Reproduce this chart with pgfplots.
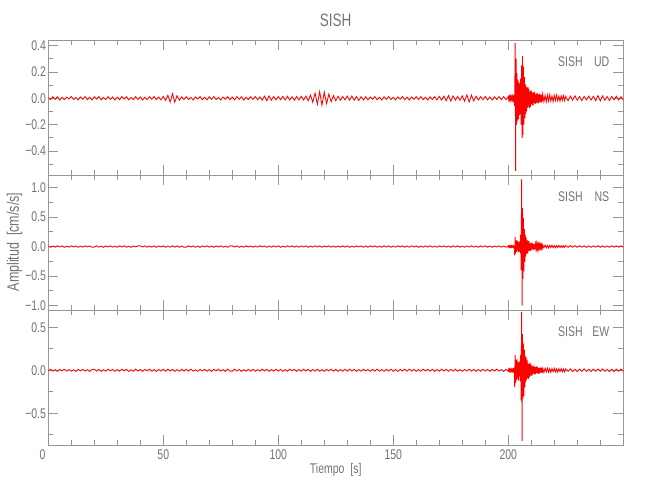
\documentclass[border=0pt]{standalone}
\usepackage{fontspec}
\setmainfont{Liberation Sans}[FakeStretch=0.75]
\usepackage{pgfplots}
\pgfplotsset{compat=1.18}
\usepackage{pgfplotstable}

\definecolor{axgray}{RGB}{150,150,150}
\definecolor{txtgray}{RGB}{115,115,115}

% seismogram, three components (cm/s/s)
\pgfplotstableread{
t ud ns ew
0 0.004 0.010 -0.008
1 -0.010 -0.012 0.011
2 0.012 0.008 -0.010
3 -0.008 -0.011 0.007
4 0.011 0.013 -0.012
5 -0.013 -0.007 0.010
6 0.007 0.011 -0.006
7 -0.011 -0.013 0.012
8 0.009 0.006 -0.009
9 -0.006 -0.010 0.008
10 0.013 0.012 -0.011
11 -0.009 -0.008 0.006
12 0.006 0.010 -0.013
13 -0.012 -0.013 0.010
14 0.010 0.007 -0.007
15 -0.007 -0.011 0.011
16 0.012 0.013 -0.010
17 -0.010 -0.006 0.007
18 0.008 0.010 -0.012
19 -0.013 -0.012 0.009
20 0.011 -0.009 0.012
21 -0.007 0.012 -0.008
22 0.013 -0.011 0.010
23 -0.012 0.008 -0.013
24 0.006 -0.013 0.007
25 -0.010 0.010 -0.011
26 0.012 -0.007 0.013
27 -0.008 0.012 -0.006
28 0.010 -0.010 0.010
29 -0.013 0.006 -0.012
30 0.008 -0.012 0.008
31 -0.011 0.011 -0.010
32 0.013 -0.008 0.012
33 -0.006 0.013 -0.007
34 0.011 -0.011 0.011
35 -0.012 0.007 -0.013
36 0.007 -0.013 0.006
37 -0.010 0.010 -0.011
38 0.012 -0.006 0.013
39 -0.009 0.012 -0.008
40 0.010 0.011 0.009
41 -0.013 -0.008 -0.012
42 0.008 0.013 0.011
43 -0.011 -0.012 -0.007
44 0.012 0.007 0.012
45 -0.007 -0.010 -0.010
46 0.013 0.012 0.008
47 -0.010 -0.013 -0.013
48 0.009 0.009 0.010
49 -0.012 -0.007 -0.009
50 0.014 0.010 0.012
51 -0.016 -0.012 -0.010
52 0.022 0.008 0.013
53 -0.028 -0.011 -0.008
54 0.034 0.013 0.011
55 -0.030 -0.009 -0.012
56 0.020 0.011 0.007
57 -0.015 -0.013 -0.011
58 0.011 0.007 0.012
59 -0.009 -0.010 -0.009
60 0.012 -0.010 0.011
61 -0.009 0.013 -0.009
62 0.007 -0.008 0.013
63 -0.013 0.011 -0.010
64 0.010 -0.012 0.006
65 -0.006 0.007 -0.012
66 0.013 -0.013 0.010
67 -0.011 0.010 -0.007
68 0.008 -0.006 0.012
69 -0.012 0.012 -0.011
70 0.011 -0.011 0.009
71 -0.008 0.008 -0.013
72 0.013 -0.013 0.011
73 -0.010 0.010 -0.006
74 0.006 -0.007 0.012
75 -0.013 0.012 -0.010
76 0.010 -0.010 0.008
77 -0.007 0.006 -0.012
78 0.012 -0.012 0.013
79 -0.011 0.011 -0.009
80 0.009 0.013 -0.011
81 -0.012 -0.009 0.012
82 0.013 0.011 -0.008
83 -0.008 -0.013 0.010
84 0.011 0.006 -0.013
85 -0.013 -0.011 0.007
86 0.007 0.012 -0.010
87 -0.010 -0.007 0.012
88 0.012 0.010 -0.009
89 -0.009 -0.012 0.011
90 0.013 0.008 -0.012
91 -0.011 -0.010 0.008
92 0.010 0.013 -0.010
93 -0.014 -0.006 0.013
94 0.016 0.011 -0.007
95 -0.018 -0.013 0.011
96 0.017 0.009 -0.012
97 -0.015 -0.011 0.009
98 0.014 0.012 -0.010
99 -0.012 -0.008 0.012
100 0.013 0.011 -0.009
101 -0.011 -0.013 0.011
102 0.014 0.007 -0.012
103 -0.012 -0.010 0.008
104 0.015 0.012 -0.011
105 -0.013 -0.008 0.013
106 0.011 0.013 -0.007
107 -0.014 -0.011 0.010
108 0.013 0.009 -0.012
109 -0.012 -0.012 0.009
110 0.015 0.010 -0.010
111 -0.013 -0.007 0.012
112 0.016 0.012 -0.008
113 -0.019 -0.013 0.011
114 0.024 0.008 -0.013
115 -0.030 -0.010 0.010
116 0.038 0.013 -0.009
117 -0.045 -0.009 0.012
118 0.050 0.011 -0.011
119 -0.052 -0.012 0.008
120 0.046 0.010 -0.012
121 -0.040 -0.008 0.010
122 0.032 0.013 -0.007
123 -0.026 -0.011 0.013
124 0.020 0.009 -0.010
125 -0.018 -0.012 0.011
126 0.016 0.007 -0.012
127 -0.015 -0.010 0.009
128 0.014 0.012 -0.011
129 -0.012 -0.009 0.012
130 0.016 0.011 -0.010
131 -0.014 -0.013 0.012
132 0.017 0.008 -0.008
133 -0.015 -0.011 0.011
134 0.013 0.013 -0.013
135 -0.016 -0.007 0.009
136 0.012 0.010 -0.011
137 -0.013 -0.012 0.012
138 0.011 0.009 -0.007
139 -0.012 -0.010 0.010
140 0.010 0.012 -0.012
141 -0.008 -0.008 0.011
142 0.012 0.011 -0.009
143 -0.011 -0.013 0.013
144 0.007 0.007 -0.010
145 -0.013 -0.011 0.008
146 0.011 0.013 -0.012
147 -0.009 -0.009 0.010
148 0.013 0.010 -0.008
149 -0.010 -0.012 0.012
150 0.008 0.008 -0.011
151 -0.012 -0.010 0.009
152 0.011 0.013 -0.013
153 -0.007 -0.007 0.011
154 0.013 0.011 -0.008
155 -0.011 -0.012 0.012
156 0.009 0.009 -0.010
157 -0.013 -0.011 0.013
158 0.010 0.012 -0.009
159 -0.008 -0.008 0.010
160 0.012 0.010 -0.012
161 -0.010 -0.013 0.008
162 0.013 0.007 -0.011
163 -0.011 -0.010 0.013
164 0.008 0.012 -0.007
165 -0.013 -0.009 0.011
166 0.011 0.013 -0.010
167 -0.009 -0.011 0.012
168 0.012 0.008 -0.013
169 -0.012 -0.012 0.009
170 0.014 0.011 -0.010
171 -0.013 -0.007 0.012
172 0.016 0.012 -0.008
173 -0.018 -0.010 0.011
174 0.020 0.009 -0.012
175 -0.021 -0.013 0.010
176 0.017 0.011 -0.009
177 -0.014 -0.008 0.013
178 0.013 0.012 -0.011
179 -0.015 -0.011 0.008
180 0.018 0.007 -0.012
181 -0.022 -0.012 0.010
182 0.026 0.010 -0.007
183 -0.028 -0.009 0.012
184 0.024 0.013 -0.010
185 -0.020 -0.010 0.011
186 0.016 0.008 -0.013
187 -0.013 -0.012 0.009
188 0.012 0.011 -0.011
189 -0.011 -0.008 0.012
190 0.013 0.012 -0.008
191 -0.012 -0.011 0.010
192 0.010 0.009 -0.012
193 -0.013 -0.013 0.011
194 0.011 0.010 -0.009
195 -0.009 -0.007 0.013
196 0.012 0.012 -0.010
197 -0.010 -0.010 0.008
198 0.013 0.008 -0.012
199 -0.011 -0.012 0.011
200.0 0.012 0.011 -0.010
200.2 -0.010 -0.012 0.012
200.4 0.013 0.008 -0.009
200.6 -0.011 -0.010 0.011
200.8 0.009 0.012 -0.012
201.0 -0.013 -0.009 0.010
201.2 0.011 0.011 -0.008
201.4 -0.008 -0.013 0.012
201.6 0.012 0.010 -0.011
201.8 -0.012 -0.008 0.009
202.0 0.010 0.012 -0.012
202.2 -0.011 -0.011 0.010
202.4 0.013 0.009 -0.013
202.6 -0.010 -0.012 0.011
202.8 -0.060 -0.150 -0.200
203.0 0.420 0.160 0.180
203.2 -0.550 -0.120 -0.150
203.4 0.300 0.100 0.120
203.6 -0.200 -0.090 -0.110
203.8 0.190 0.110 0.130
204.0 -0.170 -0.060 -0.090
204.2 0.140 0.090 0.100
204.4 -0.160 -0.100 -0.120
204.6 0.120 0.070 0.090
204.8 -0.130 -0.080 -0.070
205.0 0.110 0.090 0.110
205.2 -0.120 -0.110 -0.130
205.4 0.150 0.200 0.180
205.6 -0.200 -0.400 -0.350
205.8 0.250 1.140 0.680
206.0 -0.300 -1.000 -0.820
206.2 0.320 0.650 0.420
206.4 -0.280 -0.550 -0.330
206.6 0.240 0.480 0.310
206.8 -0.200 -0.420 -0.300
207.0 0.160 0.300 0.240
207.2 -0.150 -0.260 -0.200
207.4 0.110 0.200 0.170
207.6 -0.120 -0.170 -0.140
207.8 0.090 0.150 0.150
208.0 -0.100 -0.120 -0.110
208.2 0.080 0.110 0.120
208.4 -0.070 -0.120 -0.090
208.6 0.085 0.090 0.080
208.8 -0.060 -0.080 -0.100
209.0 0.070 0.100 0.070
209.2 -0.075 -0.070 -0.080
209.4 0.050 0.060 0.090
209.6 -0.065 -0.075 -0.060
209.8 0.060 0.050 0.070
210.0 -0.045 -0.060 -0.065
210.2 0.055 0.070 0.050
210.4 -0.050 -0.045 -0.060
210.6 0.040 0.055 0.045
210.8 -0.055 -0.050 -0.040
211.0 0.045 0.040 0.055
211.2 -0.035 -0.055 -0.045
211.4 0.050 0.035 0.040
211.6 -0.040 -0.045 -0.050
211.8 0.030 0.040 0.035
212.0 -0.045 -0.030 -0.040
212.2 0.035 0.045 0.045
212.4 -0.030 -0.035 -0.030
212.6 0.040 0.030 0.040
212.8 -0.035 -0.040 -0.035
213.0 0.028 0.028 0.030
213.2 -0.038 -0.035 -0.040
213.4 0.032 0.030 0.028
213.6 -0.026 -0.025 -0.035
213.8 0.035 0.032 0.030
214.0 -0.030 -0.028 -0.025
214.2 0.025 0.025 0.032
214.4 -0.032 -0.030 -0.028
214.6 0.028 0.022 0.025
214.8 -0.024 -0.026 -0.030
215.0 0.030 0.024 0.022
215.5 -0.026 -0.020 -0.026
216.0 0.022 0.025 0.024
216.5 -0.028 -0.022 -0.020
217.0 0.024 0.018 0.025
217.5 -0.020 -0.024 -0.022
218.0 0.026 0.020 0.018
218.5 -0.022 -0.016 -0.024
219.0 0.018 0.022 0.020
219.5 -0.025 -0.019 -0.017
220.0 0.021 0.015 0.022
220.5 -0.017 -0.020 -0.019
221.0 0.023 0.017 0.016
221.5 -0.019 -0.014 -0.021
222.0 0.016 0.019 0.018
222.5 -0.022 -0.016 -0.015
223.0 0.018 0.013 0.019
223.5 -0.015 -0.018 -0.017
224.0 0.020 0.015 0.014
224.5 -0.017 -0.012 -0.018
225 0.014 0.016 0.016
226 -0.019 -0.013 -0.013
227 0.016 0.015 0.017
228 -0.014 -0.011 -0.015
229 0.018 0.014 0.012
230 -0.015 -0.012 -0.016
231 0.013 0.015 0.014
232 -0.017 -0.010 -0.012
233 0.014 0.013 0.016
234 -0.012 -0.014 -0.013
235 0.016 0.011 0.011
236 -0.013 -0.013 -0.015
237 0.015 0.012 0.013
238 -0.018 -0.010 -0.011
239 0.020 0.014 0.014
240 -0.019 -0.012 -0.012
241 0.017 0.011 0.015
242 -0.015 -0.013 -0.013
243 0.013 0.010 0.011
244 -0.016 -0.012 -0.014
245 0.014 0.013 0.012
246 -0.012 -0.011 -0.015
247 0.015 0.012 0.013
248 -0.013 -0.010 -0.011
249 0.012 0.013 0.014
250 -0.014 -0.011 -0.012
}\seis

\pgfplotsset{
  panel/.style={
    scale only axis,
    width=431.25pt, height=101.25pt,
    xmin=0, xmax=250,
    xtick={0,50,100,150,200},
    minor xtick={10,20,30,40,60,70,80,90,110,120,130,140,160,170,180,190,210,220,230,240},
    xticklabels={},
    tick align=inside,
    xtick pos=both, ytick pos=both,
    major tick length=7.5pt, minor tick length=3.75pt,
    axis line style={axgray, line width=0.6pt},
    tick style={axgray, line width=0.6pt},
    tick label style={font=\fontsize{10.5}{12}\selectfont, text=txtgray},
    yticklabel style={inner sep=1.5pt},
  },
  trace/.style={red, line width=0.65pt},
}
\tikzset{tag/.style={anchor=north east, inner sep=0pt, font=\fontsize{10.5}{12}\selectfont, text=txtgray}}

\begin{document}
\begin{tikzpicture}
  \path[use as bounding box] (0,0) rectangle (487.5pt,375pt);

  % UD
  \begin{axis}[panel, at={(36.2pt,243.75pt)}, anchor=south west,
      ymin=-0.582, ymax=0.442,
      ytick={-0.4,-0.2,0,0.2,0.4},
      yticklabels={−0.4,−0.2,0.0,0.2,0.4},
      minor ytick={-0.5,-0.3,-0.1,0.1,0.3}]
    \addplot[trace] table[x=t, y=ud] {\seis};
    \node[tag] at (rel axis cs:0.930,0.876) {SISH};
    \node[tag] at (rel axis cs:0.976,0.876) {UD};
  \end{axis}

  % NS
  \begin{axis}[panel, at={(36.2pt,142.5pt)}, anchor=south west,
      ymin=-1.076, ymax=1.213,
      ytick={-1,-0.5,0,0.5,1},
      yticklabels={−1.0,−0.5,0.0,0.5,1.0},
      minor ytick={-0.75,-0.25,0.25,0.75}]
    \addplot[trace] table[x=t, y=ns] {\seis};
    \node[tag] at (rel axis cs:0.930,0.876) {SISH};
    \node[tag] at (rel axis cs:0.976,0.876) {NS};
  \end{axis}

  % EW
  \begin{axis}[panel, at={(36.2pt,41.25pt)}, anchor=south west,
      ymin=-0.869, ymax=0.701,
      ytick={-0.5,0,0.5},
      yticklabels={−0.5,0.0,0.5},
      minor ytick={-0.75,-0.25,0.25},
      xticklabels={\llap{0}\hphantom{0},50,100,150,200}]
    \addplot[trace] table[x=t, y=ew] {\seis};
    \node[tag] at (rel axis cs:0.930,0.876) {SISH};
    \node[tag] at (rel axis cs:0.976,0.876) {EW};
  \end{axis}

  \node[font=\fontsize{13.5}{15}\selectfont, text=txtgray] at (251.8pt,359.6pt) {SISH};
  \node[font=\fontsize{10.5}{12}\selectfont, text=txtgray] at (251.8pt,22.5pt) {Tiempo\ \ [s]};
  \node[rotate=90, font=\fontsize{12.5}{14}\selectfont, text=txtgray] at (10.9pt,193.5pt) {Amplitud\ \ [cm/s/s]};
\end{tikzpicture}
\end{document}
